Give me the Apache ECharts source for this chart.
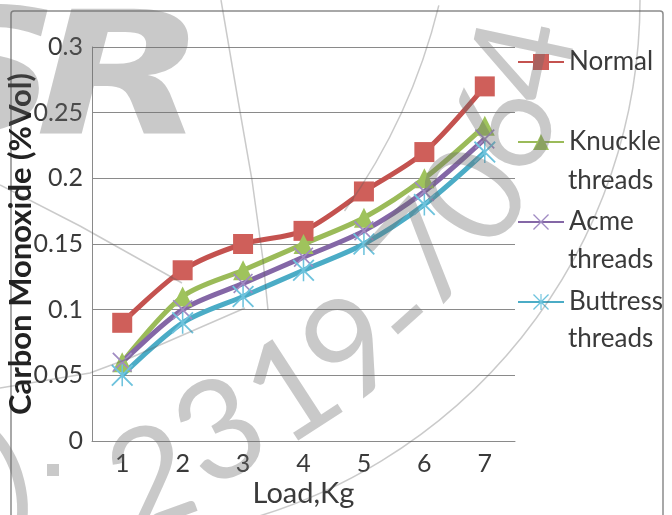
<!DOCTYPE html>
<html>
<head>
<meta charset="utf-8">
<title>Carbon Monoxide vs Load</title>
<script src="https://cdn.jsdelivr.net/npm/echarts@6/dist/echarts.min.js"></script>
<style>
  html, body { margin: 0; padding: 0; background: #ffffff; }
  #chart { width: 672px; height: 515px; }
</style>
</head>
<body>
<div id="chart"></div>
<script>
// Load in kg
const loads = ['1', '2', '3', '4', '5', '6', '7'];

// Carbon monoxide, % by volume
const normal   = [0.09, 0.13, 0.15, 0.16, 0.19, 0.22, 0.27];
const knuckle  = [0.06, 0.11, 0.13, 0.15, 0.17, 0.20, 0.24];
const acme     = [0.06, 0.10, 0.12, 0.14, 0.16, 0.19, 0.23];
const buttress = [0.05, 0.09, 0.11, 0.13, 0.15, 0.18, 0.22];

const seriesNames = ['Normal', 'Knuckle threads', 'Acme threads', 'Buttress threads'];

// Thin cross and asterisk markers built as filled outlines
const crossPath = 'path://M0,1.2 L1.2,0 L20,18.8 L18.8,20 Z M18.8,0 L20,1.2 L1.2,20 L0,18.8 Z';
const starPath = 'path://M0,1.2 L1.2,0 L20,18.8 L18.8,20 Z M18.8,0 L20,1.2 L1.2,20 L0,18.8 Z M9.3,0 L10.7,0 L10.7,20 L9.3,20 Z';

const FONT = 'Lato, "Noto Sans", sans-serif';
const TEXT = '#3a3a3a';
const GRID = '#8a8a8a';

function lineSeries(name, data, lineColor, markColor, symbol, size) {
  return {
    name: name,
    type: 'line',
    data: data,
    smooth: 0.3,
    symbol: symbol,
    symbolSize: size,
    lineStyle: { color: lineColor, width: 5 },
    itemStyle: { color: markColor, borderWidth: 0 },
    emphasis: { disabled: true }
  };
}

// Faint background seal: curved serial number and stamp rings
const WM = 'rgba(105,105,105,0.36)';
const WM_LINE = 'rgba(90,90,90,0.32)';
const sealChars = [
  { t: ')', x: 12, y: 482, r: 14 },
  { t: '2', x: 152, y: 480, r: 20 },
  { t: '3', x: 221, y: 433, r: 27 },
  { t: '1', x: 293, y: 391, r: 33 },
  { t: '9', x: 353, y: 350, r: 38 },
  { t: '-', x: 405, y: 317, r: 42 },
  { t: '7', x: 426, y: 257, r: 48 },
  { t: '0', x: 477, y: 197, r: 58 },
  { t: '6', x: 506, y: 128, r: 68 },
  { t: '4', x: 525, y: 60, r: 78 }
];
const sealGraphics = sealChars.map(function (c) {
  return {
    type: 'text', x: c.x, y: c.y, rotation: c.r * Math.PI / 180, z: 100, silent: true,
    style: { text: c.t, font: '400 138px ' + FONT, fill: WM, align: 'center', verticalAlign: 'middle' }
  };
});

const graphics = [
  // chart frame
  { type: 'rect', z: -10, silent: true, shape: { x: 11, y: 11, width: 652, height: 530, r: 3 },
    style: { fill: 'none', stroke: '#8c8c8c', lineWidth: 1.5 } },
  // large logo letters
  { type: 'text', x: -18, y: 86, scaleX: 1.25, z: 100, silent: true,
    style: { text: 'S', font: 'italic bold 172px "DejaVu Sans", sans-serif', fill: WM, align: 'center', verticalAlign: 'middle' } },
  { type: 'text', x: 121, y: 88, scaleX: 1.3, z: 100, silent: true,
    style: { text: 'R', font: 'italic bold 172px "DejaVu Sans", sans-serif', fill: WM, align: 'center', verticalAlign: 'middle' } },
  // stamp rings
  { type: 'arc', z: 100, silent: true, shape: { cx: 100, cy: 0, r: 540, startAngle: 0, endAngle: 1.35 },
    style: { fill: 'none', stroke: WM_LINE, lineWidth: 1.5 } },
  { type: 'arc', z: 100, silent: true, shape: { cx: -143, cy: -137, r: 599, startAngle: 0.24, endAngle: 0.62 },
    style: { fill: 'none', stroke: WM_LINE, lineWidth: 1.5 } },
  { type: 'polyline', z: 100, silent: true, shape: { points: [[221, 0], [238, 100], [252, 180], [263, 260], [268, 310]] },
    style: { fill: 'none', stroke: WM_LINE, lineWidth: 1.5 } },
  { type: 'polyline', z: 100, silent: true, shape: { points: [[0, 185], [80, 226], [182, 283]] },
    style: { fill: 'none', stroke: WM_LINE, lineWidth: 1.5 } },
  { type: 'polyline', z: 100, silent: true, shape: { points: [[0, 388], [90, 373], [130, 358], [245, 308]] },
    style: { fill: 'none', stroke: WM_LINE, lineWidth: 1.5 } },
  { type: 'rect', z: 100, silent: true, shape: { x: 47, y: 464, width: 12, height: 12 },
    style: { fill: WM } },
  // second lines of the legend entries
  { type: 'text', x: 568, y: 181, silent: true,
    style: { text: 'threads', font: '26px ' + FONT, fill: TEXT, align: 'left', verticalAlign: 'middle' } },
  { type: 'text', x: 568, y: 260, silent: true,
    style: { text: 'threads', font: '26px ' + FONT, fill: TEXT, align: 'left', verticalAlign: 'middle' } },
  { type: 'text', x: 568, y: 339, silent: true,
    style: { text: 'threads', font: '26px ' + FONT, fill: TEXT, align: 'left', verticalAlign: 'middle' } }
].concat(sealGraphics);

const chart = echarts.init(document.getElementById('chart'), null, { renderer: 'canvas' });

chart.setOption({
  animation: false,
  backgroundColor: '#ffffff',
  grid: { left: 92, top: 47, width: 423, height: 394, containLabel: false, outerBoundsMode: 'none' },
  legend: {
    orient: 'vertical',
    left: 517,
    top: 42.5,
    padding: 0,
    itemGap: 41,
    itemWidth: 46,
    itemHeight: 20,
    selectedMode: false,
    data: seriesNames,
    formatter: function (name) { return name.split(' ')[0]; },
    textStyle: { fontFamily: FONT, fontSize: 26, color: TEXT, lineHeight: 39 }
  },
  xAxis: {
    type: 'category',
    data: loads,
    boundaryGap: true,
    name: 'Load,Kg',
    nameLocation: 'middle',
    nameGap: 38,
    nameMoveOverlap: false,
    nameTextStyle: { fontFamily: FONT, fontSize: 29, color: TEXT },
    axisLine: { lineStyle: { color: GRID, width: 1 } },
    axisTick: { show: false },
    axisLabel: { fontFamily: FONT, fontSize: 25, color: TEXT, margin: 10 },
    splitLine: { show: false }
  },
  yAxis: {
    type: 'value',
    min: 0,
    max: 0.3,
    interval: 0.05,
    name: 'Carbon Monoxide (%Vol)',
    nameLocation: 'middle',
    nameGap: 56,
    nameMoveOverlap: false,
    nameTextStyle: { fontFamily: FONT, fontSize: 31, fontWeight: 'bold', color: '#222222' },
    axisLine: { show: true, lineStyle: { color: GRID, width: 1 } },
    axisTick: { show: false },
    axisLabel: { fontFamily: FONT, fontSize: 25, color: TEXT, margin: 9 },
    splitLine: { show: true, lineStyle: { color: GRID, width: 1 } }
  },
  series: [
    lineSeries(seriesNames[0], normal, '#c4524f', '#cf5f5a', 'rect', 20),
    lineSeries(seriesNames[1], knuckle, '#9bbb59', '#9fc35c', 'triangle', 20),
    lineSeries(seriesNames[2], acme, '#8467a6', '#a08bc3', crossPath, 20),
    lineSeries(seriesNames[3], buttress, '#4bacc6', '#6ec3dd', starPath, 22)
  ],
  graphic: graphics
});
</script>
</body>
</html>
